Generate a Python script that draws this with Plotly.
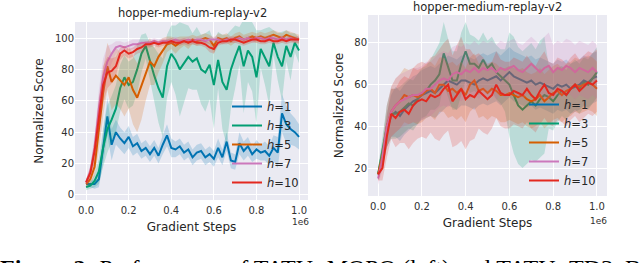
import plotly.graph_objects as go

steps = [round(i * 0.02, 2) for i in range(51)]
labels = ["<i>h</i>=1", "<i>h</i>=3", "<i>h</i>=5", "<i>h</i>=7", "<i>h</i>=10"]
colors = ["#0173b2", "#029e73", "#d55e00", "#cc78bc", "#e3281f"]
title_text = "hopper-medium-replay-v2"
caption = "<b>Figure 2:</b> Performance of TATU+MOPO (left) and TATU+TD3_BC"

# Left panel (TATU+MOPO)
mopo_h1 = [7, 7, 7, 10, 30, 50, 32, 40, 36, 33, 37, 31, 33, 28, 30, 26, 30, 25, 32, 38, 30, 29, 31, 27, 29, 24,
           27, 28, 24, 26, 23, 30, 24, 34, 22, 21, 33, 28, 31, 26, 29, 27, 28, 25, 30, 27, 52, 45, 42, 40, 37]
mopo_h3 = [5, 6, 9, 15, 30, 42, 48, 55, 68, 75, 70, 72, 80, 90, 95, 85, 76, 68, 62, 82, 90, 86, 80, 84, 88, 85,
           87, 80, 78, 83, 70, 86, 72, 67, 80, 88, 95, 82, 92, 88, 75, 93, 88, 82, 97, 88, 82, 95, 88, 97, 92]
mopo_h5 = [7, 10, 18, 40, 65, 82, 72, 76, 73, 70, 75, 67, 62, 70, 78, 85, 82, 88, 92, 96, 97, 95, 97, 98, 97, 99,
           98, 99, 100, 99, 95, 100, 99, 100, 98, 100, 101, 99, 100, 101, 100, 101, 100, 101, 102, 101, 100, 102, 101, 100, 99]
mopo_h7 = [8, 15, 30, 55, 75, 85, 90, 94, 95, 94, 95, 96, 96, 97, 97, 97, 98, 97, 98, 98, 98, 99, 98, 98, 99, 98,
           99, 99, 98, 99, 99, 99, 98, 99, 99, 99, 100, 99, 100, 99, 100, 100, 99, 100, 100, 99, 100, 99, 100, 99, 99]
mopo_h10 = [8, 14, 28, 50, 70, 78, 79, 82, 90, 92, 90, 91, 93, 94, 96, 96, 97, 96, 97, 97, 98, 97, 97, 98, 97, 98,
            97, 97, 96, 94, 93, 97, 98, 98, 99, 99, 98, 97, 98, 99, 99, 98, 98, 99, 98, 98, 99, 98, 99, 99, 99]
mopo_h1_sd = [2, 2, 3, 5, 10, 12, 10, 8, 7, 7, 7, 6, 6, 5, 5, 5, 5, 5, 6, 7, 6, 5, 5, 5, 5, 5,
              5, 5, 5, 5, 5, 6, 5, 6, 5, 5, 7, 6, 6, 5, 6, 5, 6, 6, 8, 10, 12, 12, 10, 9, 8]
mopo_h3_sd = [2, 2, 4, 8, 12, 15, 15, 15, 15, 14, 15, 15, 15, 12, 8, 12, 18, 22, 25, 20, 18, 22, 30, 25, 20, 18,
              20, 22, 25, 22, 28, 18, 30, 35, 25, 20, 12, 30, 20, 22, 30, 12, 18, 25, 8, 15, 22, 10, 15, 6, 8]
mopo_h5_sd = [2, 3, 6, 12, 15, 15, 18, 18, 18, 20, 20, 22, 22, 22, 18, 15, 12, 10, 8, 5, 4, 5, 4, 3, 4, 3,
              3, 3, 3, 3, 5, 3, 3, 3, 3, 3, 3, 3, 3, 3, 3, 3, 3, 3, 3, 3, 3, 3, 3, 3, 3]
mopo_h7_sd = [2, 4, 8, 12, 12, 10, 6, 4, 3, 3, 3, 3, 3, 2, 2, 2, 2, 2, 2, 2, 2, 2, 2, 2, 2, 2,
              2, 2, 2, 2, 2, 2, 2, 2, 2, 2, 2, 2, 2, 2, 2, 2, 2, 2, 2, 2, 2, 2, 2, 2, 2]
mopo_h10_sd = [2, 4, 8, 12, 12, 10, 8, 6, 4, 3, 3, 3, 3, 3, 2, 2, 2, 2, 2, 2, 2, 2, 2, 2, 2, 2,
               2, 2, 2, 3, 3, 2, 2, 2, 2, 2, 2, 2, 2, 2, 2, 2, 2, 2, 2, 2, 2, 2, 2, 2, 2]

# Right panel (TATU+TD3_BC)
td3_h1 = [17, 25, 38, 45, 47, 45, 48, 50, 52, 53, 55, 56, 57, 56, 58, 60, 62, 61, 60, 62, 62, 61, 60, 62, 63, 62,
          63, 64, 62, 64, 66, 64, 63, 62, 61, 62, 60, 61, 60, 59, 58, 60, 59, 60, 58, 59, 60, 62, 61, 63, 64]
td3_h3 = [17, 28, 40, 46, 46, 47, 49, 51, 50, 53, 56, 57, 60, 62, 65, 75, 68, 62, 62, 70, 76, 70, 70, 68, 72, 68,
          70, 66, 64, 62, 60, 55, 50, 48, 50, 52, 50, 53, 55, 54, 52, 55, 57, 55, 58, 60, 58, 61, 60, 63, 66]
td3_h5 = [17, 26, 40, 47, 50, 52, 55, 54, 55, 54, 55, 57, 58, 56, 60, 60, 57, 58, 56, 58, 55, 60, 62, 57, 58, 56,
          58, 57, 55, 55, 56, 55, 54, 55, 53, 52, 53, 55, 52, 54, 56, 57, 55, 57, 58, 60, 59, 60, 61, 60, 58]
td3_h7 = [15, 25, 40, 47, 50, 52, 53, 54, 55, 55, 56, 58, 58, 60, 62, 63, 62, 65, 66, 65, 67, 66, 68, 66, 68, 67,
          68, 66, 68, 67, 68, 69, 67, 66, 68, 70, 68, 66, 68, 69, 66, 68, 67, 69, 68, 66, 68, 67, 66, 68, 66]
td3_h10 = [17, 20, 35, 46, 44, 47, 48, 46, 50, 52, 53, 52, 55, 54, 55, 58, 60, 52, 55, 58, 53, 55, 54, 57, 55, 53,
           55, 60, 56, 55, 55, 57, 56, 55, 58, 55, 53, 57, 60, 56, 55, 58, 57, 55, 58, 60, 57, 59, 61, 60, 62]
td3_h1_sd = [3, 5, 8, 10, 12, 12, 12, 12, 12, 12, 12, 12, 12, 12, 12, 12, 12, 12, 12, 12, 12, 12, 12, 12, 12, 12,
             12, 12, 12, 12, 12, 12, 12, 12, 12, 12, 12, 12, 12, 12, 12, 12, 12, 12, 12, 12, 12, 12, 12, 12, 12]
td3_h3_sd = [3, 6, 10, 12, 12, 12, 12, 12, 12, 12, 12, 12, 12, 14, 15, 15, 14, 14, 14, 15, 14, 14, 13, 13, 13, 13,
             13, 13, 13, 15, 25, 28, 28, 28, 28, 28, 27, 28, 28, 15, 14, 13, 12, 12, 12, 12, 12, 12, 12, 12, 12]
td3_h5_sd = [3, 6, 10, 12, 13, 13, 13, 13, 13, 13, 13, 13, 13, 13, 13, 13, 13, 13, 13, 13, 13, 13, 13, 13, 13, 13,
             13, 13, 13, 13, 13, 13, 13, 13, 13, 13, 13, 13, 13, 13, 13, 13, 13, 13, 13, 13, 13, 13, 13, 13, 13]
td3_h7_sd = [3, 6, 10, 12, 13, 13, 13, 13, 13, 13, 13, 13, 13, 13, 13, 13, 13, 13, 13, 13, 13, 13, 13, 13, 13, 13,
             13, 13, 13, 13, 13, 13, 13, 13, 13, 13, 13, 13, 15, 16, 13, 13, 13, 13, 13, 13, 13, 13, 13, 13, 13]
td3_h10_sd = [3, 6, 10, 12, 14, 15, 16, 17, 18, 18, 18, 18, 18, 20, 22, 22, 22, 22, 24, 25, 24, 22, 20, 18, 18, 17,
              16, 16, 16, 16, 16, 16, 16, 16, 16, 16, 16, 16, 16, 15, 15, 15, 15, 15, 15, 15, 15, 15, 15, 15, 15]

left_means = [mopo_h1, mopo_h3, mopo_h5, mopo_h7, mopo_h10]
left_sds = [mopo_h1_sd, mopo_h3_sd, mopo_h5_sd, mopo_h7_sd, mopo_h10_sd]
right_means = [td3_h1, td3_h3, td3_h5, td3_h7, td3_h10]
right_sds = [td3_h1_sd, td3_h3_sd, td3_h5_sd, td3_h7_sd, td3_h10_sd]


def rgba(hexc, a):
    h = hexc.lstrip("#")
    return "rgba(%d,%d,%d,%.2f)" % (int(h[0:2], 16), int(h[2:4], 16), int(h[4:6], 16), a)


fig = go.Figure()


def add_panel(means, sds, xa, ya, legend):
    for lab, col, m, s in zip(labels, colors, means, sds):
        up = [a + b for a, b in zip(m, s)]
        lo = [a - b for a, b in zip(m, s)]
        fig.add_trace(go.Scatter(x=steps, y=up, mode="lines", line=dict(width=0), xaxis=xa, yaxis=ya,
                                 showlegend=False, hoverinfo="skip"))
        fig.add_trace(go.Scatter(x=steps, y=lo, mode="lines", line=dict(width=0), fill="tonexty",
                                 fillcolor=rgba(col, 0.2), xaxis=xa, yaxis=ya, showlegend=False, hoverinfo="skip"))
        fig.add_trace(go.Scatter(x=steps, y=m, mode="lines", name=lab, line=dict(color=col, width=2),
                                 xaxis=xa, yaxis=ya, legend=legend))


add_panel(left_means, left_sds, "x", "y", "legend")
add_panel(right_means, right_sds, "x2", "y2", "legend2")

W, H = 640, 263
tickfont = dict(family="DejaVu Sans", size=10, color="#303030")
titlefont = dict(family="DejaVu Sans", size=12, color="#262626")
axis_common = dict(showgrid=True, gridcolor="white", gridwidth=1, zeroline=False, showline=False,
                   ticks="", tickfont=tickfont)
legfont = dict(family="DejaVu Sans", size=11.5, color="#262626")

fig.update_layout(
    width=W, height=H, margin=dict(l=0, r=0, t=0, b=0),
    paper_bgcolor="white", plot_bgcolor="#eaeaf2",
    xaxis=dict(domain=[75 / W, 308 / W], range=[-0.052, 1.042], tickvals=[0, 0.2, 0.4, 0.6, 0.8, 1.0],
               ticktext=["0.0", "0.2", "0.4", "0.6", "0.8", "1.0"], anchor="y", ticklabelstandoff=3,
               title=dict(text="Gradient Steps", font=titlefont, standoff=7), **axis_common),
    yaxis=dict(domain=[1 - 200 / H, 1 - 22 / H], range=[-3.2, 110.2], tickvals=[0, 20, 40, 60, 80, 100],
               anchor="x", title=dict(text="Normalized Score", font=titlefont, standoff=8), **axis_common),
    xaxis2=dict(domain=[368 / W, 607 / W], range=[-0.046, 1.046], tickvals=[0, 0.2, 0.4, 0.6, 0.8, 1.0],
                ticktext=["0.0", "0.2", "0.4", "0.6", "0.8", "1.0"], anchor="y2", ticklabelstandoff=3,
                title=dict(text="Gradient Steps", font=titlefont, standoff=7), **axis_common),
    yaxis2=dict(domain=[1 - 196 / H, 1 - 15 / H], range=[6.6, 93.4], tickvals=[20, 40, 60, 80],
                anchor="x2", title=dict(text="Normalized Score", font=titlefont, standoff=8), **axis_common),
    legend=dict(x=227 / W, y=1 - 92 / H, xanchor="left", yanchor="top", bgcolor="rgba(0,0,0,0)",
                font=legfont, tracegroupgap=0, traceorder="normal"),
    legend2=dict(x=524 / W, y=1 - 90 / H, xanchor="left", yanchor="top", bgcolor="rgba(0,0,0,0)",
                 font=legfont, tracegroupgap=0, traceorder="normal"),
    annotations=[
        dict(text=title_text, x=192 / W, y=1 - 13 / H, xref="paper", yref="paper", showarrow=False,
             xanchor="center", yanchor="middle", font=dict(family="DejaVu Sans", size=11.5, color="#262626")),
        dict(text=title_text, x=487 / W, y=1 - 7 / H, xref="paper", yref="paper", showarrow=False,
             xanchor="center", yanchor="middle", font=dict(family="DejaVu Sans", size=11.5, color="#262626")),
        dict(text="1e6", x=300 / W, y=1 - 222 / H, xref="paper", yref="paper", showarrow=False,
             xanchor="center", yanchor="middle", font=dict(family="DejaVu Sans", size=9, color="#303030")),
        dict(text="1e6", x=598 / W, y=1 - 221 / H, xref="paper", yref="paper", showarrow=False,
             xanchor="center", yanchor="middle", font=dict(family="DejaVu Sans", size=9, color="#303030")),
        dict(text=caption, x=-2 / W, y=1 - 253 / H, xref="paper", yref="paper", showarrow=False,
             xanchor="left", yanchor="top", font=dict(family="Liberation Serif", size=24, color="black")),
    ],
)

fig.write_html("out.html", config={"displayModeBar": False},
               post_script="document.body.style.margin='0';")
